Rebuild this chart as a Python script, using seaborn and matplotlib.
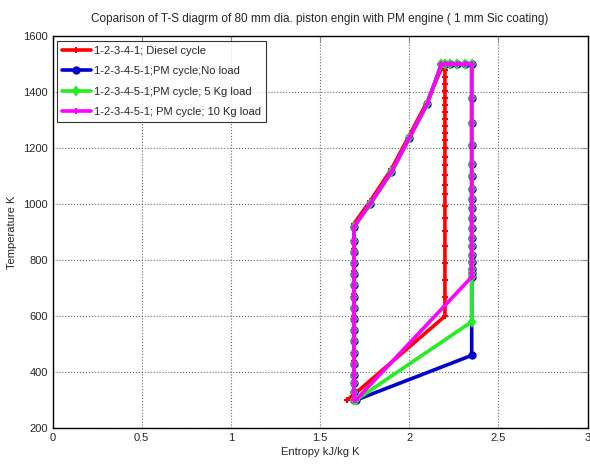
import pandas as pd
import matplotlib
matplotlib.use("Agg")
import matplotlib.pyplot as plt
import seaborn as sns

# T-S data (entropy kJ/kg K, temperature K)

# Diesel cycle 1-2-3-4-1
diesel_s = [1.65, 1.69, 1.69, 1.69, 1.69, 1.69, 1.69, 1.69, 1.69, 1.69,
            1.78, 1.90, 2.00, 2.10, 2.19,
            2.20, 2.20, 2.20, 2.20, 2.20, 2.20, 2.20, 2.20, 2.20, 2.20,
            2.20, 2.20, 2.20, 2.20, 2.20, 2.20, 2.20, 2.20, 2.20, 2.20,
            2.20, 2.20, 2.20, 2.20, 2.20, 1.69]
diesel_T = [300, 320, 370, 440, 520, 600, 680, 760, 840, 930,
            1010, 1125, 1245, 1365, 1500,
            1480, 1455, 1430, 1405, 1380, 1355, 1330, 1305, 1280, 1255,
            1230, 1200, 1170, 1140, 1105, 1070, 1035, 995, 950, 905,
            850, 790, 730, 670, 600, 320]

# shared part of the PM cycles (compression, heat addition, start of expansion)
pm_s = [1.69, 1.69, 1.69, 1.69, 1.69, 1.69, 1.69, 1.69, 1.69, 1.69,
        1.69, 1.69, 1.69, 1.69, 1.69, 1.69, 1.69,
        1.78, 1.90, 2.00, 2.10, 2.18,
        2.20, 2.23, 2.27, 2.31, 2.35,
        2.35, 2.35, 2.35, 2.35, 2.35, 2.35, 2.35, 2.35, 2.35, 2.35,
        2.35, 2.35, 2.35, 2.35, 2.35, 2.35, 2.35]
pm_T = [300, 330, 360, 390, 430, 470, 510, 550, 590, 630,
        670, 710, 750, 790, 830, 870, 920,
        1000, 1115, 1236, 1357, 1500,
        1500, 1500, 1500, 1500, 1500,
        1380, 1290, 1210, 1145, 1100, 1055, 1020, 985, 950, 915,
        880, 850, 820, 795, 770, 755, 740]

# end of expansion (point 5) for each load, then back to point 1
end_T_noload = 460
end_T_5kg = 580
end_T_10kg = 740
start_s, start_T = 1.70, 300

labels = ["1-2-3-4-1; Diesel cycle",
          "1-2-3-4-5-1;PM cycle;No load",
          "1-2-3-4-5-1;PM cycle; 5 Kg load",
          "1-2-3-4-5-1; PM cycle; 10 Kg load"]
colors = ["#ff0000", "#0000cc", "#22ee22", "#ff00ff"]
markers = ["+", "o", "d", "+"]


def pm_cycle(end_T):
    s = pm_s + [2.35, start_s]
    T = pm_T + [end_T, start_T]
    return pd.DataFrame({"s": s, "T": T})


sns.set_style("white")
plt.rcParams["font.family"] = ["Liberation Sans Narrow", "Liberation Sans", "DejaVu Sans"]

fig = plt.figure(figsize=(5.9, 4.69), dpi=100)
ax = fig.add_axes([0.089, 0.087, 0.907, 0.836])

frames = [pd.DataFrame({"s": diesel_s, "T": diesel_T}),
          pm_cycle(end_T_noload), pm_cycle(end_T_5kg), pm_cycle(end_T_10kg)]

for df, lab, col, mk in zip(frames, labels, colors, markers):
    sns.lineplot(data=df, x="s", y="T", sort=False, estimator=None, ax=ax,
                 color=col, linewidth=2.6, marker=mk, markersize=4.5,
                 markeredgecolor=col, markeredgewidth=1.5, label=lab)

ax.set_xlim(0, 3)
ax.set_ylim(200, 1600)
ax.set_xticks([0, 0.5, 1, 1.5, 2, 2.5, 3])
ax.set_xticklabels(["0", "0.5", "1", "1.5", "2", "2.5", "3"])
ax.set_yticks(range(200, 1601, 200))
ax.grid(True, linestyle=":", color="#666666", linewidth=0.8)
ax.tick_params(direction="in", labelsize=8, length=4, top=True, right=True,
               color="#888888")
for sp in ax.spines.values():
    sp.set_color("black")
    sp.set_linewidth(1.0)

ax.set_xlabel("Entropy kJ/kg K", fontsize=8, labelpad=3)
ax.set_ylabel("Temperature K", fontsize=8, labelpad=4)
ax.set_title("Coparison of T-S diagrm of 80 mm dia. piston engin with PM engine ( 1 mm Sic coating)",
             fontsize=8.5, pad=10)

leg = ax.legend(loc="upper left", fontsize=8, frameon=True, fancybox=False,
                edgecolor="black", handlelength=2.6, borderpad=0.45,
                labelspacing=0.95, handletextpad=0.3, borderaxespad=0.4)
leg.get_frame().set_linewidth(0.8)

fig.savefig("out.png", dpi=100)
